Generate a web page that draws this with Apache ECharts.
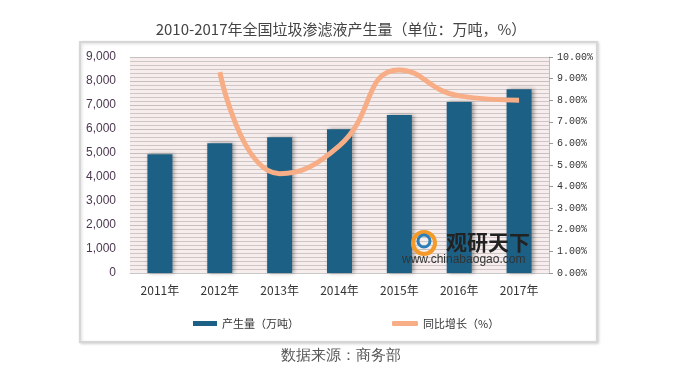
<!DOCTYPE html>
<html><head><meta charset="utf-8">
<script src="https://cdn.jsdelivr.net/npm/echarts@6/dist/echarts.min.js"></script>
<style>html,body{margin:0;padding:0;background:#fff}#c{width:682px;height:380px}</style>
</head><body><div id="c"></div>
<script>
var categories = ['2011年','2012年','2013年','2014年','2015年','2016年','2017年'];
var production = [4950, 5410, 5660, 5990, 6580, 7120, 7660];
var growth = [null, 9.3, 4.6, 5.9, 9.4, 8.2, 8.0];
var leftTicks = [0, 9000, 1000];
var rightTicks = [0, 10, 1];
var seriesNames = ['产生量（万吨）', '同比增长（%）'];

var chart = echarts.init(document.getElementById('c'));
chart.setOption({
  animation: false,
  title: {
    text: '2010-2017年全国垃圾渗滤液产生量（单位：万吨，%）',
    left: 'center', top: 17,
    textStyle: {fontSize: 15, fontWeight: 'normal', color: '#444', fontFamily: 'Noto Sans CJK SC'}
  },
  graphic: [
    {type: 'rect', shape: {x: 80, y: 42, width: 517, height: 300}, z: -10,
     style: {fill: '#fff', stroke: '#d6d6d6', lineWidth: 2, shadowColor: 'rgba(0,0,0,0.15)', shadowBlur: 3, shadowOffsetX: 1, shadowOffsetY: 1}},
    {type: 'text', left: 'center', top: 348, z: 10,
     style: {text: '数据来源：商务部', fontSize: 15, fill: '#555', font: '15px "Noto Sans CJK SC"'}},
    {type: 'text', x: 446, y: 232, z: 10,
     style: {text: '观研天下', font: 'bold 21px "Noto Sans CJK SC"', fill: '#222'}},
    {type: 'text', x: 402, y: 254, z: 10,
     style: {text: 'www.chinabaogao.com', font: '12px "Liberation Sans"', fill: '#333'}},
    {type: 'circle', shape: {cx: 424, cy: 243, r: 11}, z: 9,
     style: {fill: 'none', stroke: '#f39a2b', lineWidth: 4}},
    {type: 'circle', shape: {cx: 424, cy: 241, r: 6}, z: 9,
     style: {fill: 'none', stroke: '#2a7fb8', lineWidth: 3}}
  ],
  legend: [
    {left: 188, top: 313, data: [{name: seriesNames[0], icon: 'rect'}], itemWidth: 24, itemHeight: 5, itemGap: 2,
     textStyle: {fontSize: 11, color: '#333', fontFamily: 'Noto Sans CJK SC'}},
    {left: 387, top: 313, data: [{name: seriesNames[1], icon: 'roundRect'}], itemWidth: 26, itemHeight: 5,
     textStyle: {fontSize: 11, color: '#333', fontFamily: 'Noto Sans CJK SC'}}
  ],
  grid: {left: 130, right: 133, top: 57, bottom: 107, show: true, backgroundColor: '#f7eded', borderWidth: 0},
  xAxis: {
    type: 'category', data: categories,
    axisTick: {show: false},
    axisLine: {show: true, lineStyle: {color: '#c8c8c8'}},
    axisLabel: {fontSize: 12, color: '#333', margin: 11, fontFamily: 'Noto Sans CJK SC'}
  },
  yAxis: [
    {type: 'value', min: leftTicks[0], max: leftTicks[1], interval: leftTicks[2],
     axisLine: {show: false}, axisTick: {show: false},
     axisLabel: {fontSize: 12, color: '#4b3850', margin: 14, fontFamily: 'Liberation Sans',
       formatter: function (v) { return v.toLocaleString('en-US'); }},
     splitLine: {show: true, lineStyle: {color: '#c4c0c0', width: 1}},
     minorTick: {show: false, splitNumber: 6},
     minorSplitLine: {show: true, lineStyle: {color: '#ccc6c6', width: 1}}
    },
    {type: 'value', min: rightTicks[0], max: rightTicks[1], interval: rightTicks[2],
     position: 'right',
     axisLine: {show: true, lineStyle: {color: '#c0c0c0'}},
     axisTick: {show: true, length: 4, lineStyle: {color: '#999'}},
     axisLabel: {fontSize: 10, color: '#333', margin: 8, fontFamily: 'Liberation Mono',
       formatter: function (v) { return v.toFixed(2) + '%'; }},
     splitLine: {show: false}
    }
  ],
  series: [
    {name: seriesNames[0], type: 'bar', data: production, barWidth: 25, yAxisIndex: 0,
     itemStyle: {color: '#1c6185', shadowColor: 'rgba(0,0,0,0.35)', shadowBlur: 4, shadowOffsetX: 2, shadowOffsetY: 0}},
    {name: seriesNames[1], type: 'line', data: growth, yAxisIndex: 1, smooth: 0.5, symbol: 'none',
     lineStyle: {color: '#f7ad86', width: 5}, itemStyle: {color: '#f7ad86'}, z: 5}
  ]
});
</script></body></html>
